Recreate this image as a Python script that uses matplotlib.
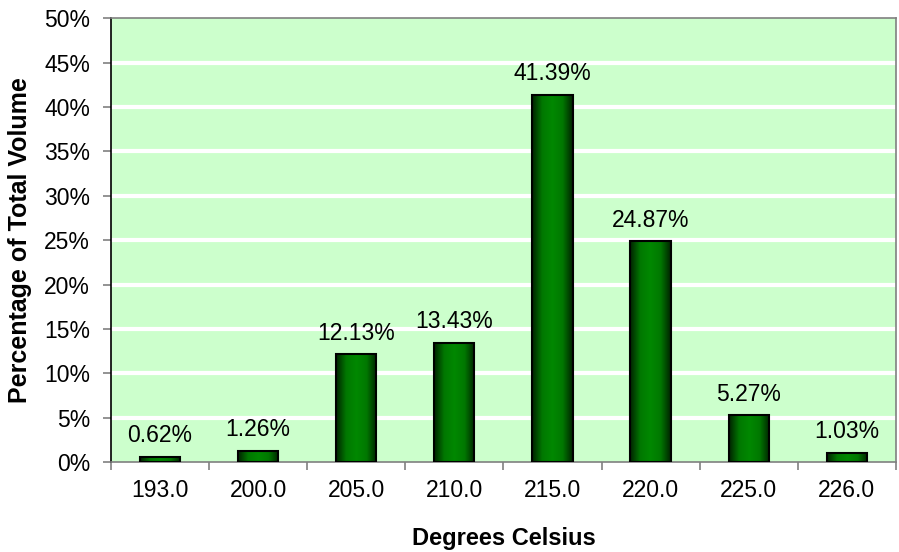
import matplotlib
matplotlib.use("Agg")
import matplotlib.pyplot as plt
import numpy as np
from matplotlib.colors import LinearSegmentedColormap

temps = ["193.0", "200.0", "205.0", "210.0", "215.0", "220.0", "225.0", "226.0"]
volume = [0.62, 1.26, 12.13, 13.43, 41.39, 24.87, 5.27, 1.03]
yticks = [0, 5, 10, 15, 20, 25, 30, 35, 40, 45, 50]

plt.rcParams['font.family'] = ['Liberation Sans', 'DejaVu Sans']

fig = plt.figure(figsize=(8.99, 5.52), dpi=100)
ax = fig.add_axes([0.1235, 0.163, 0.873, 0.804])
ax.set_facecolor('#ccffcc')

x = np.arange(len(temps))
bars = ax.bar(x, volume, width=0.41, color='none', edgecolor='black', linewidth=1.5, zorder=3)

# horizontal gradient: dark edges, bright centre
cmap = LinearSegmentedColormap.from_list('g', ['#002200', '#007800', '#008800', '#007800', '#002200'])
grad = np.linspace(0, 1, 256).reshape(1, -1)
for b in bars:
    x0, y0 = b.get_x(), b.get_y()
    w, h = b.get_width(), b.get_height()
    im = ax.imshow(grad, cmap=cmap, extent=[x0, x0 + w, y0, y0 + h], aspect='auto', zorder=2)
    im.set_clip_path(b)
    ax.annotate(f"{h:.2f}%", (x0 + w / 2, h), xytext=(0, 10.5), textcoords='offset points',
                ha='center', va='baseline', fontsize=16.5)

ax.set_xlim(-0.5, len(temps) - 0.5)
ax.set_ylim(0, 50)
ax.set_yticks(yticks)
ax.set_yticklabels([f"{v}%" for v in yticks], fontsize=16.5)
ax.set_xticks(x)
ax.set_xticklabels(temps, fontsize=16.5)
ax.tick_params(axis='x', length=0, pad=12)
ax.set_xticks(np.arange(len(temps) + 1) - 0.5, minor=True)
ax.tick_params(axis='x', which='minor', length=6, color='#808080', width=1.2)
ax.tick_params(axis='y', length=6, color='#808080', width=1.2, pad=9)

for v in yticks[1:-1]:
    ax.axhline(v, color='white', linewidth=3, zorder=1)

ax.spines['left'].set_color('black')
ax.spines['left'].set_linewidth(1.2)
for s in ['top', 'right', 'bottom']:
    ax.spines[s].set_color('#808080')
    ax.spines[s].set_linewidth(1.2)

ax.set_xlabel('Degrees Celsius', fontsize=17, fontweight='bold', labelpad=18)
ax.set_ylabel('Percentage of Total Volume', fontsize=18, fontweight='bold', labelpad=9)

fig.savefig('out.png', dpi=100)
